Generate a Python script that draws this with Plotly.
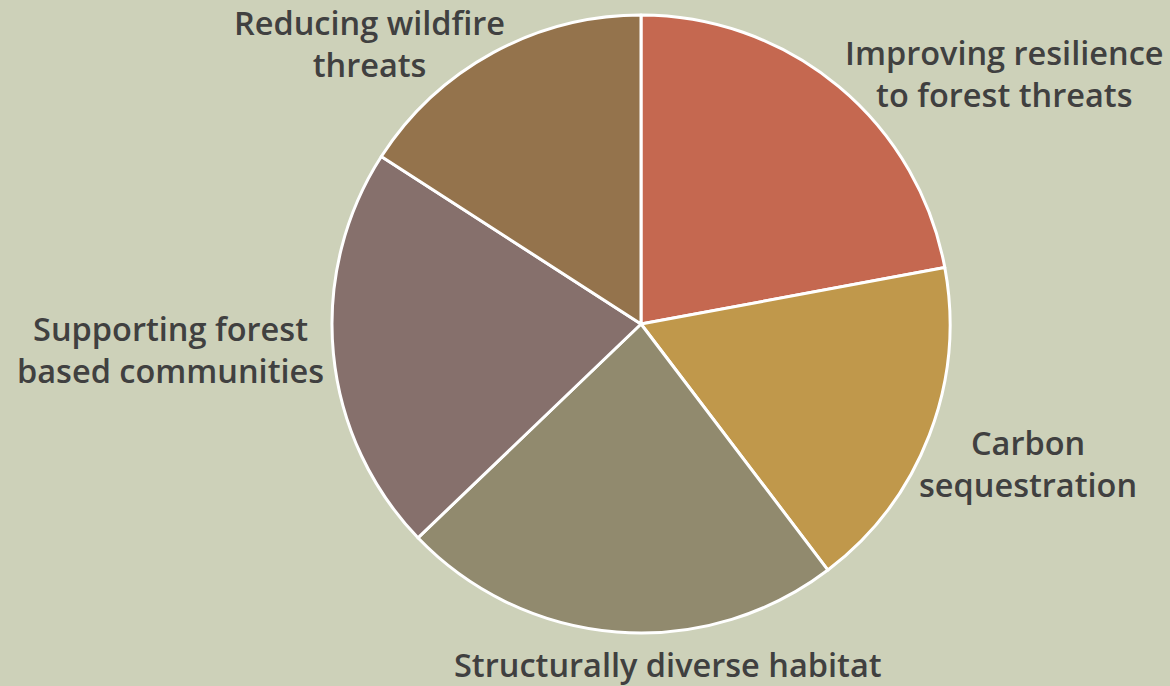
import plotly.graph_objects as go

categories = [
    "Improving resilience<br>to forest threats",
    "Carbon<br>sequestration",
    "Structurally diverse habitat",
    "Supporting forest<br>based communities",
    "Reducing wildfire<br>threats",
]
values = [22.1, 17.6, 23.2, 21.3, 15.9]
colors = ["#C56850", "#C0984B", "#918A6E", "#86706C", "#94734C"]

# label anchor positions in paper coordinates (x, y)
label_pos = [
    (1005 / 1170, 1 - 74 / 686),
    (1028 / 1170, 1 - 463 / 686),
    (668 / 1170, 1 - 664 / 686),
    (170 / 1170, 1 - 349 / 686),
    (369 / 1170, 1 - 43 / 686),
]

W, H = 1170, 686
cx, cy, r = 641, 324, 309

fig = go.Figure(
    go.Pie(
        labels=categories,
        values=values,
        sort=False,
        direction="clockwise",
        rotation=0,
        marker=dict(colors=colors, line=dict(color="white", width=3)),
        textinfo="none",
        hoverinfo="label+percent",
        showlegend=False,
        domain=dict(x=[(cx - r) / W, (cx + r) / W], y=[(H - cy - r) / H, (H - cy + r) / H]),
    )
)

for lab, (x, y) in zip(categories, label_pos):
    fig.add_annotation(
        x=x, y=y, xref="paper", yref="paper", text=lab, showarrow=False,
        xanchor="center", yanchor="middle", align="center",
        font=dict(family="Open Sans", size=32.5, color="#404040", weight=600),
    )

fig.update_layout(
    width=W, height=H,
    margin=dict(l=0, r=0, t=0, b=0),
    paper_bgcolor="#CDD1B9",
    plot_bgcolor="#CDD1B9",
)

fig.write_html(
    "out.html",
    config={"displayModeBar": False},
    post_script="document.body.style.margin='0';document.body.style.background='#CDD1B9';",
)
